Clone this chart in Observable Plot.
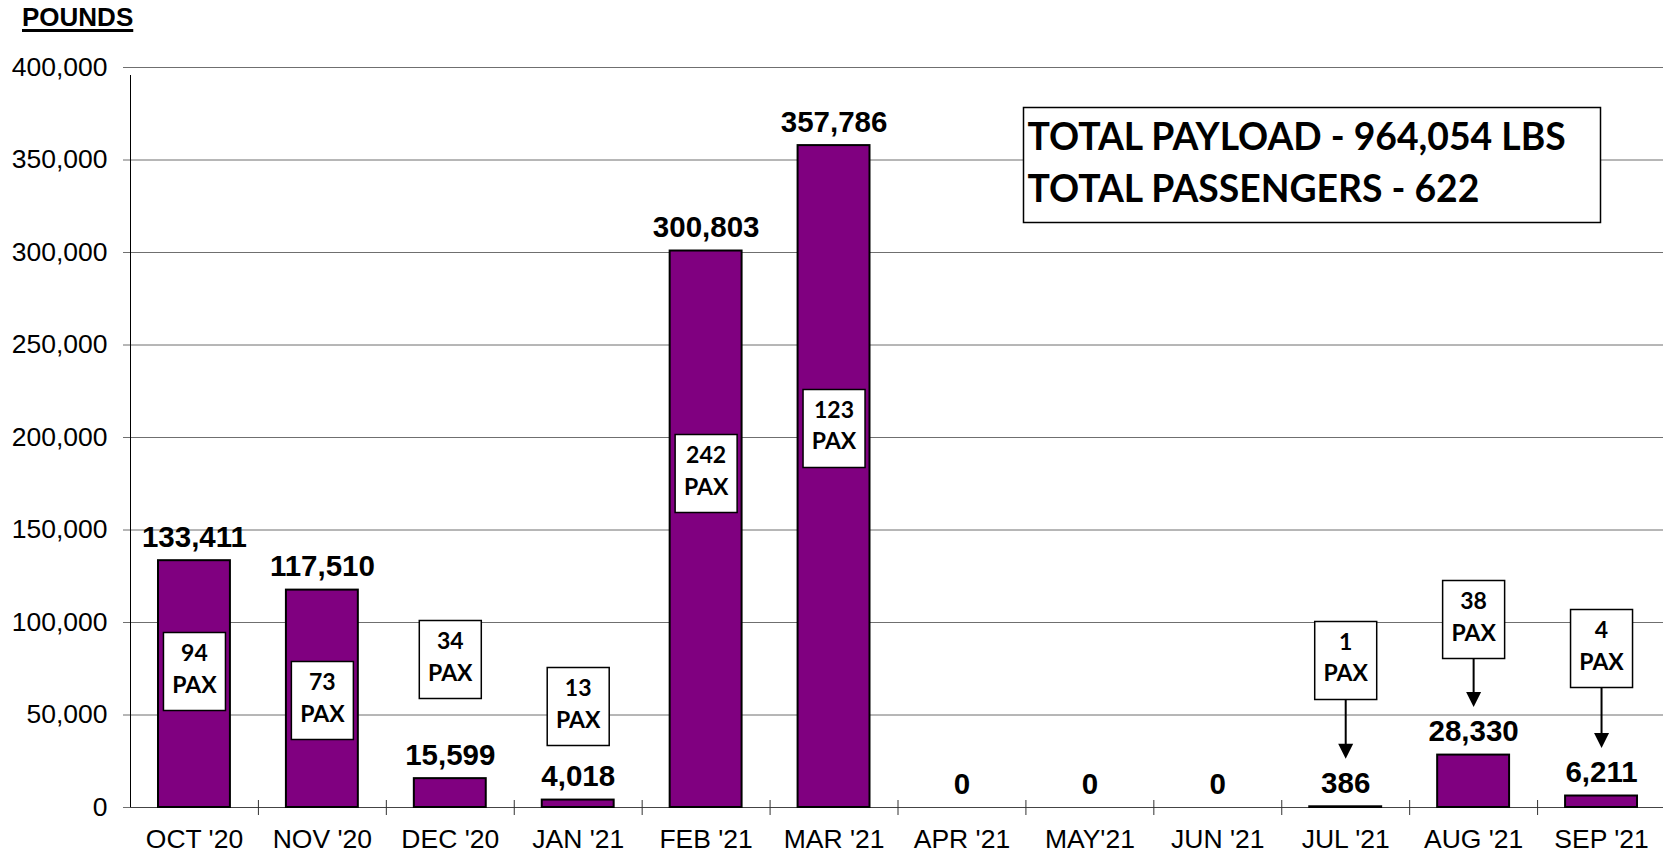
<!DOCTYPE html>
<html><head><meta charset="utf-8">
<script src="https://cdn.jsdelivr.net/npm/d3@7"></script>
<script src="https://cdn.jsdelivr.net/npm/@observablehq/plot@0.6"></script>
<style>
body{margin:0;background:#fff;}
#wrap{position:relative;width:1663px;height:853px;overflow:hidden;background:#fff}
#title{position:absolute;left:22px;top:4px;font:bold 26px "Liberation Sans",Arial,sans-serif;line-height:26px;text-decoration:underline;text-decoration-thickness:2.5px;text-underline-offset:3px;z-index:2}
#chart svg{display:block}
</style></head><body>
<div id="wrap"><div id="title">POUNDS</div><div id="chart"></div></div>
<script>
// ---- data ----
const months = ["OCT '20","NOV '20","DEC '20","JAN '21","FEB '21","MAR '21","APR '21","MAY'21","JUN '21","JUL '21","AUG '21","SEP '21"];
const pounds = [133411, 117510, 15599, 4018, 300803, 357786, 0, 0, 0, 386, 28330, 6211];
const passengers = [94, 73, 34, 13, 242, 123, null, null, null, 1, 38, 4];
// where each PAX call-out box sits, in pounds (y-axis units)
const paxBoxAt = [73500, 57800, 80000, 54600, 180500, 204900, null, null, null, 79500, 101600, 85900];
const arrowMonths = ["JUL '21", "AUG '21", "SEP '21"];
const yTicks = [0, 50000, 100000, 150000, 200000, 250000, 300000, 350000, 400000];

// ---- derived table ----
const data = months.map((m, i) => ({i, month: m, pounds: pounds[i], pax: passengers[i], boxY: paxBoxAt[i]}));
const paxData = data.filter(d => d.pax != null);
const arrowData = data.filter(d => arrowMonths.includes(d.month));
const fmt = d3.format(",");
const totalPounds = d3.sum(pounds);
const totalPax = d3.sum(passengers);

const ARIAL = '"Liberation Sans", Arial, sans-serif';
const CALIBRI = 'Lato, "Open Sans", sans-serif';
const GRID = "#6f6f6f";

const boxSymbol = {draw(ctx) { ctx.rect(-31, -39, 62, 78); }};
const headSymbol = {draw(ctx) { ctx.moveTo(0, 0); ctx.lineTo(-7.5, -15); ctx.lineTo(7.5, -15); ctx.closePath(); }};

const chart = Plot.plot({
  width: 1663,
  height: 853,
  marginTop: 67,
  marginBottom: 46,
  marginLeft: 130,
  marginRight: 0,
  x: {domain: [0, 12], range: [130, 1665], axis: null},
  y: {domain: [0, 400000], axis: null},
  style: {fontFamily: ARIAL, background: "white", overflow: "visible"},
  marks: [
    // gridlines
    Plot.ruleY(yTicks.slice(1), {stroke: GRID, strokeWidth: 1}),
    Plot.ruleY([0], {stroke: "#444", strokeWidth: 1}),
    // y axis
    Plot.axisY({ticks: yTicks, tickFormat: fmt, tickSize: 7, tickPadding: 16, fontSize: 26.5, stroke: GRID, color: "black", label: null}),
    Plot.ruleX([0], {y1: 0, y2: 400000, insetBottom: -8, stroke: "black", strokeWidth: 1}),
    // category boundary ticks
    Plot.ruleX(d3.range(1, 13), {y1: 0, y2: 0, insetTop: -7, insetBottom: -8, stroke: "#333", strokeWidth: 1}),
    // category labels
    Plot.axisX({ticks: months.map((_, i) => i + 0.5), tickFormat: d => months[Math.floor(d)], tickSize: 0, tickPadding: 22, fontSize: 26.5, label: null}),
    // bars
    Plot.rectY(data, {x1: d => d.i, x2: d => d.i + 1, y: "pounds", insetLeft: 28, insetRight: 28, fill: "#800080", stroke: "black", strokeWidth: 2}),
    // value labels
    Plot.text(data, {x: d => d.i + 0.5, y: "pounds", text: d => fmt(d.pounds), dy: -14, lineAnchor: "bottom", fontSize: 29.5, fontWeight: "bold", fill: "black"}),
    // arrows from PAX boxes
    Plot.arrow(arrowData, {x1: d => d.i + 0.5, x2: d => d.i + 0.5, y1: "boxY", y2: "pounds", insetEnd: 54, headLength: 0, stroke: "black", strokeWidth: 2}),
    Plot.dot(arrowData, {x: d => d.i + 0.5, y: "pounds", dy: -48, r: 1, symbol: headSymbol, fill: "black", stroke: "none"}),
    // PAX boxes
    Plot.dot(paxData, {x: d => d.i + 0.5, y: "boxY", r: 1, symbol: boxSymbol, fill: "white", stroke: "black", strokeWidth: 1.5}),
    Plot.text(paxData, {x: d => d.i + 0.5, y: "boxY", text: d => `${d.pax}\nPAX`, lineAnchor: "middle", lineHeight: 1.38, dy: -5, fontSize: 23, fontWeight: "bold", fontFamily: CALIBRI, fill: "black"}),
    // totals box
    Plot.frame({insetLeft: 893, insetRight: 63, insetTop: 40, insetBottom: 585, fill: "white", stroke: "black", strokeWidth: 1.5}),
    Plot.text([`TOTAL PAYLOAD - ${fmt(totalPounds)} LBS\nTOTAL PASSENGERS - ${fmt(totalPax)}`], {frameAnchor: "top-left", dx: 897, dy: 92, textAnchor: "start", lineAnchor: "middle", lineHeight: 1.38, fontSize: 37.3, fontWeight: "bold", fontFamily: CALIBRI, fill: "black"})
  ]
});
document.getElementById("chart").appendChild(chart);
</script>
</body></html>
